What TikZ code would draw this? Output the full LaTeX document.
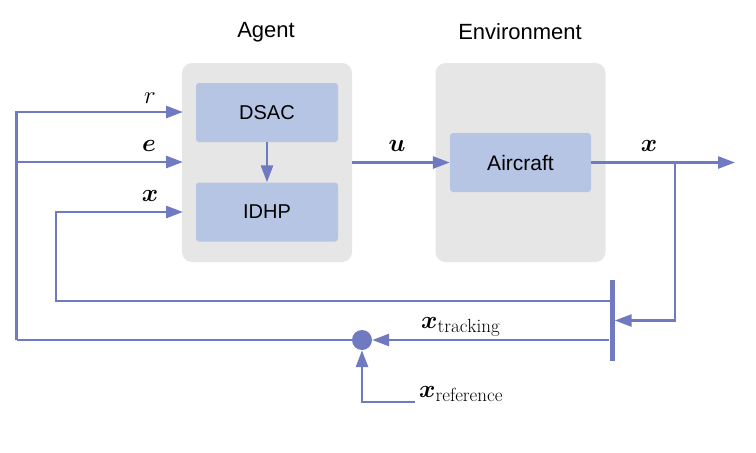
\documentclass[tikz,border=0pt]{standalone}
\usepackage{amsmath}
\usepackage{fontspec}
\usetikzlibrary{arrows.meta}
\newfontfamily\blockfont{Liberation Sans}
\DeclareMathSizes{24}{24}{19}{14}
\definecolor{flow}{RGB}{112,122,192}
\definecolor{panelgray}{RGB}{230,230,230}
\definecolor{blockblue}{RGB}{182,197,228}

\begin{document}
\begin{tikzpicture}[x=1pt,y=-1pt,>={Triangle[length=17pt,width=12pt]}]
			\tikzstyle{group}=[fill=panelgray,rounded corners=10pt,minimum width=170pt,minimum height=199pt,inner sep=0pt]
			\tikzstyle{block}=[fill=blockblue,rounded corners=3pt,minimum width=142pt,minimum height=59pt,inner sep=0pt,font=\blockfont\fontsize{20}{24}\selectfont]
			\tikzstyle{head}=[font=\blockfont\fontsize{22}{26}\selectfont]
			\tikzstyle{lbl}=[font=\fontsize{24}{28}\selectfont,inner sep=2pt]
			\tikzstyle{link}=[draw=flow,line width=2.8pt]
			\useasboundingbox (0,0) rectangle (756,453);
			% panels and blocks
			\node[group] (agent) at (267,162.5) {};
			\node[group] (env) at (520.5,162.5) {};
			\node[head] (agent_t) at (266,32) {Agent};
			\node[head] (env_t) at (520,32) {Environment};
			\node[block] (dsac) at (267,112.5) {DSAC};
			\node[block] (idhp) at (267,212) {IDHP};
			\node[block,minimum width=141pt,font=\blockfont\fontsize{21}{24}\selectfont] (aircraft) at (520.5,162.5) {Aircraft};
			\node[fill=flow,minimum width=5pt,minimum height=81pt,inner sep=0pt] (mux) at (612,320.5) {};
			\node[circle,fill=flow,minimum size=20pt,inner sep=0pt] (sum) at (362,340) {};
			% end points
			\coordinate (r_in) at (183,112);
			\coordinate (e_in) at (183,162);
			\coordinate (x_in) at (183,212);
			\coordinate (x_out) at (735,162.5);
			\coordinate (split) at (675,162.5);
			\coordinate (x_fb) at (609.5,301);
			\coordinate (x_ref) at (415,402);
			\coordinate (ret) at (16.7,340);
			% connectors
			\draw[link,->] (dsac) -- (idhp);
			\draw[link,->] (agent.east) -- (aircraft.west);
			\draw[link,->] (aircraft.east) -- (x_out);
			\draw[link,->] (split) |- (mux.east);
			\draw[link,->] (x_fb) -| (56,212) -- (x_in);
			\draw[link,->] (mux.west |- sum) -- (sum);
			\draw[link,->] (x_ref) -| (sum);
			\draw[link] (sum) -- (ret);
			\draw[link,->] (ret) |- (r_in);
			\draw[link,->] (ret |- e_in) -- (e_in);
			% labels
			\node[lbl] (r_lbl) at (150,98) {$r$};
			\node[lbl] (e_lbl) at (149,146) {$\boldsymbol{e}$};
			\node[lbl] (x_lbl) at (150,196) {$\boldsymbol{x}$};
			\node[lbl] (u_lbl) at (397,146) {$\boldsymbol{u}$};
			\node[lbl] (y_lbl) at (649,146) {$\boldsymbol{x}$};
			\node[lbl,anchor=west] (trk_lbl) at (419,327) {$\boldsymbol{x}_{\mathrm{tracking}}$};
			\node[lbl,anchor=west] (ref_lbl) at (417,394) {$\boldsymbol{x}_{\mathrm{reference}}$};
\end{tikzpicture}
\end{document}
